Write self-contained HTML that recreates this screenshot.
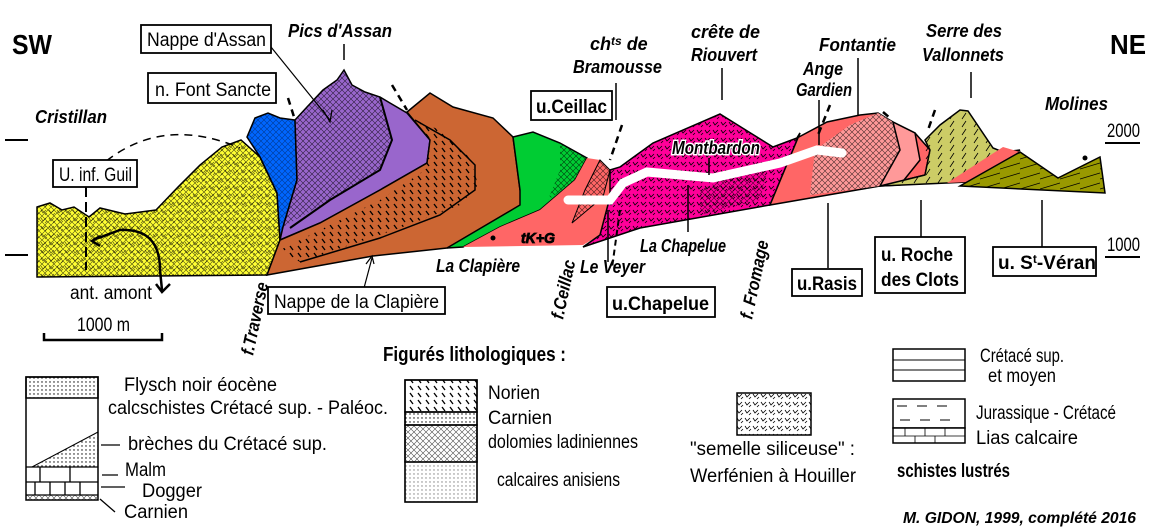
<!DOCTYPE html>
<html><head><meta charset="utf-8">
<style>
html,body{margin:0;padding:0;background:#fff;}
svg{display:block;}
text{font-family:"Liberation Sans Narrow","Liberation Sans",sans-serif;fill:#000;}
.b{font-weight:bold;}
.i{font-style:italic;font-weight:bold;}
</style></head><body>
<svg width="1154" height="530" viewBox="0 0 1154 530" xmlns="http://www.w3.org/2000/svg">
<defs>
<pattern id="cross" width="6" height="6" patternUnits="userSpaceOnUse">
<path d="M0 0L6 6M6 0L0 6" stroke="#000" stroke-width="0.6" opacity="0.7"/></pattern>
<pattern id="dash" width="8" height="7" patternUnits="userSpaceOnUse">
<path d="M2 1L5 5" stroke="#000" stroke-width="1.3"/></pattern>
<pattern id="vee" width="8" height="8" patternUnits="userSpaceOnUse">
<path d="M1 2L3 5L6 2M5 7L7 5" stroke="#000" stroke-width="0.8" fill="none"/></pattern>
<pattern id="dots" width="4" height="4" patternUnits="userSpaceOnUse">
<circle cx="2" cy="2" r="0.7" fill="#000"/></pattern>
<pattern id="sl" width="12" height="8" patternUnits="userSpaceOnUse">
<path d="M2 7L6 1" stroke="#000" stroke-width="0.8"/></pattern>
<pattern id="hl" width="20" height="10" patternUnits="userSpaceOnUse">
<path d="M0 9L20 3" stroke="#000" stroke-width="0.8"/></pattern>
</defs>

<path d="M5 140H28M5 255H28" stroke="#000" stroke-width="2"/>

<!-- Yellow -->
<path d="M37 207L50 203L62 210L74 207L89 217L100 208L125 214L156 210L178 187L200 165L222 147L241 140L260 157L277 193L280 240L267 275L37 277Z" fill="#ffff33" stroke="#000" stroke-width="1.5"/>
<path d="M37 207L50 203L62 210L74 207L89 217L100 208L125 214L156 210L178 187L200 165L222 147L241 140L260 157L277 193L280 240L267 275L37 277Z" fill="url(#cross)"/>
<path d="M37 207L50 203L62 210L74 207L89 217L100 208L125 214L156 210L178 187L200 165L222 147L241 140L260 157L277 193L280 240L267 275L37 277Z" fill="url(#vee)" opacity="0.6"/>
<!-- Blue -->
<path d="M247 137L255 118L268 113L280 118L295 120L297 180L283 227L280 240L277 193L260 157Z" fill="#0066ff" stroke="#000" stroke-width="1.5"/>
<path d="M247 137L255 118L268 113L280 118L295 120L297 180L283 227L280 240L277 193L260 157Z" fill="url(#cross)" opacity="0.6"/>
<!-- Purple -->
<path d="M295 120L307 107L323 90L337 80L344 70L352 85L365 92L380 97L390 103L407 113L430 140L427 163L380 190L320 223L280 240L283 227L297 180Z" fill="#9966cc" stroke="#000" stroke-width="1.5"/>
<path d="M295 120L307 107L323 90L337 80L344 70L352 85L365 92L380 97L392 140L380 170L330 200L283 227L297 180Z" fill="url(#cross)"/>
<path d="M380 97L392 140L380 170L330 200L290 228" fill="none" stroke="#000" stroke-width="2"/>
<!-- Brown -->
<path d="M407 112L430 93L453 107L493 118L513 137L520 190L540 210L447 248L373 256L267 275L280 240L320 223L380 190L427 163L430 140Z" fill="#cc6633" stroke="#000" stroke-width="1.5"/>
<path d="M410 118L440 130L470 155L478 185L460 205L400 228L300 262L280 250L320 230L380 200L425 170L430 140Z" fill="url(#dash)"/>
<path d="M415 120L450 140L475 165L475 190L440 215L380 238L300 262" fill="none" stroke="#000" stroke-width="1.5"/>
<!-- Green -->
<path d="M513 137L533 132L560 143L587 158L575 180L540 210L500 227L463 247L447 248L520 205L520 190Z" fill="#00cc33" stroke="#000" stroke-width="1.5"/>
<path d="M560 143L587 158L575 180L548 200L560 170Z" fill="url(#cross)"/>
<!-- Salmon left -->
<path d="M587 158L600 160L610 170L610 197L600 235L583 245L463 247L500 227L540 210L575 180Z" fill="#ff6666"/>
<path d="M600 160L610 170L603 197L572 223L585 190Z" fill="#ff6666" stroke="#000" stroke-width="1"/>
<path d="M600 160L610 170L603 197L572 223L585 190Z" fill="url(#cross)"/>
<!-- Magenta -->
<path d="M610 170L620 167L653 143L720 114L773 147L797 138L800 133L770 205L640 228L583 247L600 235L610 197Z" fill="#ff0099" stroke="#000" stroke-width="1.5"/>
<path d="M610 170L620 167L653 143L720 114L773 147L797 138L790 160L770 205L640 228L583 247L600 235L610 197Z" fill="url(#vee)"/>
<path d="M700 190L770 160L760 200L700 215Z" fill="url(#cross)"/>
<!-- Salmon right -->
<path d="M797 138L827 122L860 115L878 113L893 122L915 133L930 150L925 175L880 186L770 205L800 133Z" fill="#ff6666" stroke="#000" stroke-width="1.5"/>
<path d="M815 150L850 125L878 113L893 122L900 150L880 186L810 195Z" fill="#ff9999"/>
<path d="M815 150L850 125L878 113L893 122L900 150L880 186L810 195Z" fill="url(#cross)"/>
<path d="M893 122L915 133L920 160L900 185L880 186L900 150Z" fill="#ff9999" stroke="#000" stroke-width="1.5"/>
<!-- Light olive -->
<path d="M925 140L940 125L960 110L968 111L993 148L1003 152L1020 150L967 182L947 183L880 186L925 175L930 150Z" fill="#cccc66" stroke="#000" stroke-width="1.5"/>
<path d="M925 140L940 125L960 110L968 111L993 148L1003 152L947 183L880 186L925 175Z" fill="url(#sl)"/>
<path d="M1003 147L1020 152L967 182L947 183Z" fill="#ff6666"/>
<!-- Dark olive -->
<path d="M1020 152L1058 178L1100 157L1105 193L960 186L967 182Z" fill="#999900" stroke="#000" stroke-width="1.5"/>
<path d="M1020 152L1058 178L1100 157L1105 193L960 186L967 182Z" fill="url(#hl)"/>
<circle cx="1085" cy="158" r="2.5" fill="#000"/>
<circle cx="493" cy="238" r="2.5" fill="#000"/>

<path d="M568 200L610 200L623 183L647 172L713 178L780 163L817 150L842 153" fill="none" stroke="#fff" stroke-width="9" stroke-linecap="round"/>

<path d="M86 180Q150 110 240 148" fill="none" stroke="#000" stroke-width="1.5" stroke-dasharray="8,6"/>
<path d="M86 187V270" stroke="#000" stroke-width="2" stroke-dasharray="10,5"/>
<path d="M160 270Q160 228 120 230L93 240" fill="none" stroke="#000" stroke-width="2.5"/>
<path d="M100 236L92 241L100 246" fill="none" stroke="#000" stroke-width="2.5"/>
<path d="M160 270L162 290" stroke="#000" stroke-width="2.5"/>
<path d="M156 284L162 292L170 284" fill="none" stroke="#000" stroke-width="2.5"/>
<path d="M288 98L295 120M392 85L407 110M622 125L610 160M830 105L818 135M935 110L928 130M883 112L890 118" stroke="#000" stroke-width="2.5" stroke-dasharray="7,5"/>
<path d="M620 210L612 268" stroke="#000" stroke-width="2" stroke-dasharray="6,4"/>
<path d="M271 47L330 120" stroke="#000" stroke-width="1.2"/>
<path d="M323 110L330 122L332 110" fill="none" stroke="#000" stroke-width="1.2"/>
<path d="M344 44V60M616 83V120M722 68V100M858 58V115M819 100V145M971 72V98M828 203V268M921 200V237M1042 200V247M608 210V262M688 185V232M709 158V175" stroke="#000" stroke-width="1.5"/>
<path d="M364 288L372 258M366 264L372 256L374 264" fill="none" stroke="#000" stroke-width="1.2"/>
<path d="M1105 143H1140M1105 257H1140" stroke="#000" stroke-width="2"/>
<path d="M44 333V340H162V333" fill="none" stroke="#000" stroke-width="2.5"/>

<g fill="#fff" stroke="#000" stroke-width="1.8">
<rect x="141" y="25" width="130" height="28"/>
<rect x="148" y="73" width="128" height="30"/>
<rect x="53" y="160" width="84" height="27"/>
<rect x="531" y="91" width="81" height="29"/>
<rect x="268" y="287" width="177" height="27"/>
<rect x="607" y="287" width="108" height="30"/>
<rect x="792" y="269" width="70" height="27"/>
<rect x="875" y="237" width="90" height="56"/>
<rect x="993" y="247" width="103" height="29"/>
</g>
<g font-size="19" lengthAdjust="spacingAndGlyphs">
<text x="147" y="46" textLength="119" lengthAdjust="spacingAndGlyphs">Nappe d'Assan</text>
<text x="155" y="96" textLength="116" lengthAdjust="spacingAndGlyphs">n. Font Sancte</text>
<text x="59" y="181" textLength="73" lengthAdjust="spacingAndGlyphs">U. inf. Guil</text>
<text x="536" y="113" class="b" textLength="71" lengthAdjust="spacingAndGlyphs">u.Ceillac</text>
<text x="274" y="308" textLength="165" lengthAdjust="spacingAndGlyphs">Nappe de la Clapière</text>
<text x="612" y="310" class="b" textLength="97" lengthAdjust="spacingAndGlyphs">u.Chapelue</text>
<text x="797" y="290" class="b" textLength="60" lengthAdjust="spacingAndGlyphs">u.Rasis</text>
<text x="881" y="261" class="b" textLength="72" lengthAdjust="spacingAndGlyphs">u. Roche</text>
<text x="881" y="286" class="b" textLength="78" lengthAdjust="spacingAndGlyphs">des Clots</text>
<text x="998" y="269" class="b">u. S<tspan font-size="12" dy="-6">t</tspan><tspan dy="6">-Véran</tspan></text>
</g>

<text x="12" y="54" font-size="28" class="b" textLength="40" lengthAdjust="spacingAndGlyphs">SW</text>
<text x="1110" y="54" font-size="28" class="b" textLength="36" lengthAdjust="spacingAndGlyphs">NE</text>
<g font-size="18" class="i">
<text x="288" y="37" textLength="104" lengthAdjust="spacingAndGlyphs">Pics d'Assan</text>
<text x="35" y="123" textLength="72" lengthAdjust="spacingAndGlyphs">Cristillan</text>
<text x="590" y="50">ch<tspan font-size="12" dy="-5">ts</tspan><tspan dy="5"> de</tspan></text>
<text x="573" y="73" textLength="89" lengthAdjust="spacingAndGlyphs">Bramousse</text>
<text x="691" y="38" textLength="69" lengthAdjust="spacingAndGlyphs">crête de</text>
<text x="691" y="61" textLength="66" lengthAdjust="spacingAndGlyphs">Riouvert</text>
<text x="819" y="51" textLength="77" lengthAdjust="spacingAndGlyphs">Fontantie</text>
<text x="803" y="75" textLength="40" lengthAdjust="spacingAndGlyphs">Ange</text>
<text x="796" y="96" textLength="56" lengthAdjust="spacingAndGlyphs">Gardien</text>
<text x="926" y="37" textLength="76" lengthAdjust="spacingAndGlyphs">Serre des</text>
<text x="922" y="61" textLength="82" lengthAdjust="spacingAndGlyphs">Vallonnets</text>
<text x="1045" y="110" textLength="63" lengthAdjust="spacingAndGlyphs">Molines</text>
<text x="436" y="272" textLength="84" lengthAdjust="spacingAndGlyphs">La Clapière</text>
<text x="580" y="273" textLength="65" lengthAdjust="spacingAndGlyphs">Le Veyer</text>
<text x="640" y="252" textLength="86" lengthAdjust="spacingAndGlyphs">La Chapelue</text>
<text x="672" y="154" textLength="88" lengthAdjust="spacingAndGlyphs" stroke="#fff" stroke-width="3" paint-order="stroke">Montbardon</text>
<text x="521" y="243" font-size="15" textLength="34" lengthAdjust="spacingAndGlyphs" fill="#fff" stroke="#000" stroke-width="0.8" paint-order="stroke">tK+G</text>
<text transform="translate(253,356) rotate(-78)" textLength="74" lengthAdjust="spacingAndGlyphs">f.Traverse</text>
<text transform="translate(563,320) rotate(-78)" textLength="60" lengthAdjust="spacingAndGlyphs">f.Ceillac</text>
<text transform="translate(752,320) rotate(-78)" textLength="80" lengthAdjust="spacingAndGlyphs">f. Fromage</text>
</g>
<text x="1107" y="137" font-size="19" textLength="33" lengthAdjust="spacingAndGlyphs">2000</text>
<text x="1107" y="251" font-size="19" textLength="33" lengthAdjust="spacingAndGlyphs">1000</text>
<text x="70" y="299" font-size="19" textLength="82" lengthAdjust="spacingAndGlyphs">ant. amont</text>
<text x="77" y="331" font-size="19" textLength="53" lengthAdjust="spacingAndGlyphs">1000 m</text>

<rect x="26" y="377" width="72" height="123" fill="#fff" stroke="#000" stroke-width="1.5"/>
<rect x="26" y="377" width="72" height="21" fill="url(#dots)" stroke="#000" stroke-width="1.5"/>
<path d="M32 467L98 432V467Z" fill="url(#dots)" stroke="#000"/>
<path d="M26 467H98M26 482H98M26 495H98M40 467V482M70 467V482M35 482V495M50 482V495M65 482V495M80 482V495" stroke="#000" stroke-width="1.3"/>
<rect x="26" y="495" width="72" height="5" fill="url(#cross)" stroke="#000"/>
<path d="M101 445H120M102 475H118M101 487H125M100 499L115 512" stroke="#000" stroke-width="1.3"/>
<g font-size="19">
<text x="124" y="391" textLength="153" lengthAdjust="spacingAndGlyphs">Flysch noir éocène</text>
<text x="108" y="414" textLength="280" lengthAdjust="spacingAndGlyphs">calcschistes Crétacé sup. - Paléoc.</text>
<text x="128" y="450" textLength="199" lengthAdjust="spacingAndGlyphs">brèches du Crétacé sup.</text>
<text x="125" y="476" textLength="41" lengthAdjust="spacingAndGlyphs">Malm</text>
<text x="142" y="497" textLength="60" lengthAdjust="spacingAndGlyphs">Dogger</text>
<text x="124" y="518" textLength="64" lengthAdjust="spacingAndGlyphs">Carnien</text>
</g>
<text x="383" y="361" font-size="20" class="b" textLength="183" lengthAdjust="spacingAndGlyphs">Figurés lithologiques :</text>
<rect x="405" y="380" width="72" height="122" fill="#fff" stroke="#000" stroke-width="1.5"/>
<rect x="405" y="380" width="72" height="32" fill="url(#dash)" stroke="#000" stroke-width="1.5"/>
<rect x="405" y="412" width="72" height="13" fill="url(#dots)" stroke="#000" stroke-width="1.5"/>
<rect x="405" y="425" width="72" height="37" fill="url(#cross)" stroke="#000" stroke-width="1.5"/>
<rect x="405" y="462" width="72" height="40" fill="url(#dots)" opacity="0.5" stroke="#000" stroke-width="1.5"/>
<g font-size="19">
<text x="488" y="399" textLength="52" lengthAdjust="spacingAndGlyphs">Norien</text>
<text x="488" y="424" textLength="64" lengthAdjust="spacingAndGlyphs">Carnien</text>
<text x="488" y="448" textLength="150" lengthAdjust="spacingAndGlyphs">dolomies ladiniennes</text>
<text x="497" y="486" textLength="123" lengthAdjust="spacingAndGlyphs">calcaires anisiens</text>
</g>
<rect x="737" y="393" width="74" height="42" fill="url(#vee)" stroke="#000" stroke-width="1.5"/>
<g font-size="19">
<text x="690" y="455" textLength="165" lengthAdjust="spacingAndGlyphs">"semelle siliceuse" :</text>
<text x="690" y="482" textLength="166" lengthAdjust="spacingAndGlyphs">Werfénien à Houiller</text>
</g>
<rect x="893" y="349" width="72" height="32" fill="#fff" stroke="#000" stroke-width="1.5"/>
<path d="M893 360H965M893 370H965" stroke="#000"/>
<rect x="893" y="399" width="72" height="29" fill="#fff" stroke="#000" stroke-width="1.5"/>
<path d="M897 406H907M917 406H927M937 406H947M900 420H910M920 420H930M940 420H950" stroke="#000"/>
<rect x="893" y="428" width="72" height="15" fill="#fff" stroke="#000" stroke-width="1.5"/>
<path d="M893 436H965M905 428V436M925 428V436M945 428V436M915 436V443M935 436V443" stroke="#000" stroke-width="0.8"/>
<g font-size="19">
<text x="980" y="362" textLength="84" lengthAdjust="spacingAndGlyphs">Crétacé sup.</text>
<text x="988" y="382" textLength="68" lengthAdjust="spacingAndGlyphs">et moyen</text>
<text x="976" y="419" textLength="140" lengthAdjust="spacingAndGlyphs">Jurassique - Crétacé</text>
<text x="976" y="444" textLength="102" lengthAdjust="spacingAndGlyphs">Lias calcaire</text>
<text x="897" y="477" class="b" textLength="113" lengthAdjust="spacingAndGlyphs">schistes lustrés</text>
</g>
<text x="903" y="523" font-size="16" class="i" textLength="233" lengthAdjust="spacingAndGlyphs">M. GIDON, 1999, complété 2016</text>
</svg>
</body></html>
